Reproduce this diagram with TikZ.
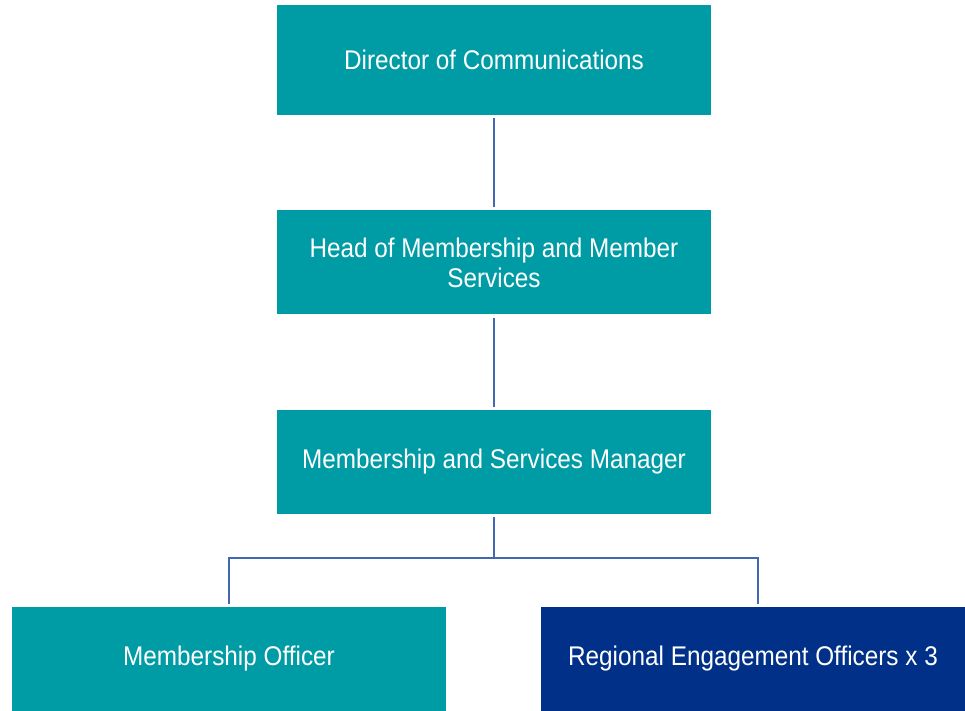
\documentclass[tikz,border=0pt]{standalone}
\usepackage{fontspec}
\setmainfont[FakeStretch=0.9]{Liberation Sans}
\usetikzlibrary{positioning}

\definecolor{boxteal}{RGB}{0,156,166}
\definecolor{boxnavy}{RGB}{0,48,135}
\definecolor{linkblue}{RGB}{66,104,180}

\begin{document}
\begin{tikzpicture}[x=1pt, y=1pt, node distance=95pt,
    box/.style={fill=boxteal, text=white, inner sep=0pt, align=center,
        minimum width=434pt, minimum height=104pt,
        font=\fontsize{27}{30}\selectfont},
    link/.style={draw=linkblue, line width=2pt, shorten >=3pt, shorten <=3pt}]
    \useasboundingbox (0,0) rectangle (965,-711);

    \node[box, minimum height=110pt] (dir) at (494,-60) {Director of Communications};
    \node[box] (head) [below=of dir] {Head of Membership and Member\\Services};
    \node[box] (mgr) [below=of head] {Membership and Services Manager};

    \node[box] (mo) at (229,-659) {Membership Officer};
    \node[box, fill=boxnavy, minimum width=424pt] (reo) at (753,-659) {Regional Engagement Officers x 3};

    \draw[link] (dir) -- (head);
    \draw[link] (head) -- (mgr);

    \coordinate (split) at (494,-558);
    \draw[link, shorten >=0pt] (mgr) -- (split);
    \draw[link] (mo.north) |- (split) -| ([xshift=5pt]reo.north);
\end{tikzpicture}
\end{document}
